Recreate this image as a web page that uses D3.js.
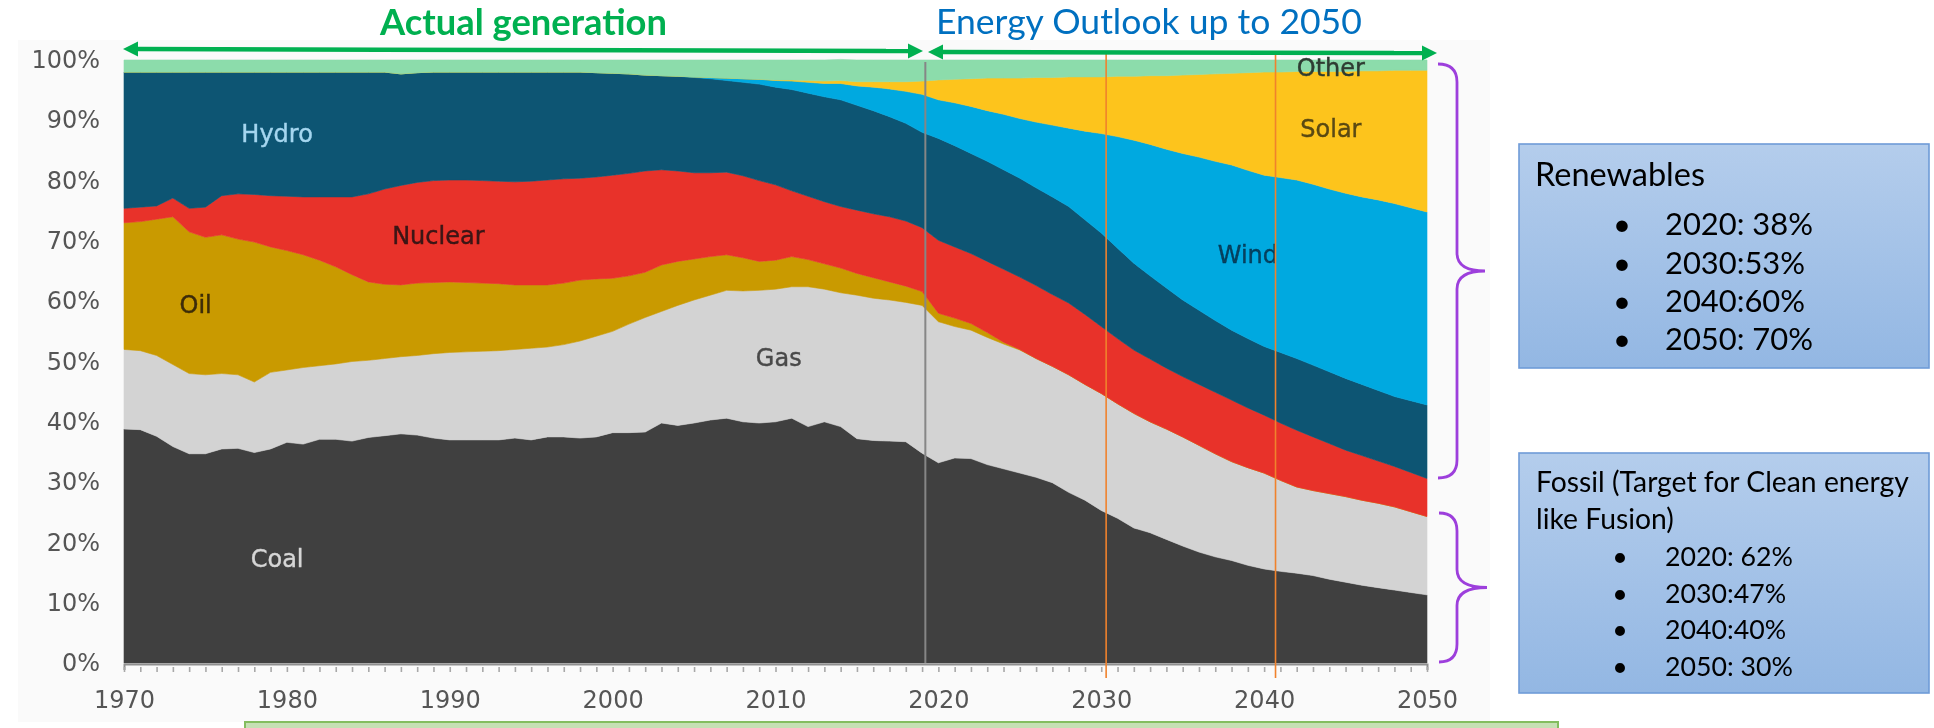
<!DOCTYPE html>
<html>
<head>
<meta charset="utf-8">
<script src="https://cdn.jsdelivr.net/npm/d3@7"></script>
<style>
  html, body { margin: 0; padding: 0; background: #ffffff; }
  svg { display: block; }
</style>
</head>
<body>
<script>
// Share of world electricity generation by source, 1970-2050 (%)
const years = d3.range(1970, 2051);

const coal = [
  38.8, 38.7, 37.6, 35.9, 34.7, 34.7, 35.5, 35.6, 34.9, 35.5,
  36.6, 36.3, 37.1, 37.1, 36.8, 37.4, 37.7, 38.0, 37.8, 37.3,
  37.0, 37.0, 37.0, 37.0, 37.3, 37.0, 37.5, 37.5, 37.3, 37.5,
  38.2, 38.2, 38.3, 39.8, 39.4, 39.8, 40.3, 40.6, 40.0, 39.8,
  40.0, 40.6, 39.2, 40.0, 39.2, 37.2, 36.9, 36.8, 36.7, 34.8,
  33.2, 34.0, 33.9, 32.9, 32.2, 31.5, 30.8, 29.9, 28.3, 27.0,
  25.3, 24.0, 22.4, 21.6, 20.5, 19.4, 18.4, 17.6, 17.0, 16.2,
  15.6, 15.2, 14.9, 14.5, 13.9, 13.4, 12.9, 12.5, 12.1, 11.7,
  11.3
];
const gas = [
  13.2, 13.1, 13.4, 13.6, 13.3, 13.1, 12.5, 12.2, 11.7, 12.7,
  12.0, 12.7, 12.2, 12.5, 13.2, 12.8, 12.8, 12.8, 13.2, 14.0,
  14.5, 14.6, 14.7, 14.8, 14.7, 15.2, 14.9, 15.3, 16.1, 16.7,
  16.8, 18.0, 19.0, 18.5, 19.9, 20.4, 20.7, 21.2, 21.7, 22.0,
  22.0, 21.8, 23.2, 22.0, 22.2, 23.8, 23.6, 23.4, 23.1, 24.5,
  23.4, 21.8, 21.3, 21.1, 20.7, 20.4, 19.7, 19.3, 19.5, 19.2,
  19.4, 19.0, 19.0, 18.4, 18.3, 18.1, 17.7, 17.1, 16.4, 16.2,
  15.9, 15.1, 14.3, 14.1, 14.2, 14.2, 14.1, 14.0, 13.8, 13.4,
  13.0
];
const oil = [
  21.0, 21.4, 22.6, 24.5, 23.5, 22.8, 23.0, 22.5, 23.2, 20.8,
  19.8, 18.7, 17.5, 16.1, 14.4, 13.0, 12.3, 11.9, 12.0, 11.8,
  11.7, 11.5, 11.3, 11.1, 10.7, 10.5, 10.3, 10.2, 10.1, 9.5,
  8.8, 8.0, 7.5, 7.7, 7.3, 6.8, 6.4, 5.9, 5.5, 4.8,
  4.8, 5.0, 4.5, 4.2, 4.1, 3.6, 3.4, 3.0, 2.7, 2.3,
  1.4, 1.4, 1.1, 0.8, 0.3, 0.1, 0, 0, 0, 0,
  0, 0, 0, 0, 0, 0, 0, 0, 0, 0,
  0, 0, 0, 0, 0, 0, 0, 0, 0, 0,
  0
];
const nuclear = [
  2.4, 2.4, 2.2, 3.1, 3.9, 5.0, 6.5, 7.5, 7.9, 8.5,
  9.0, 9.6, 10.5, 11.6, 12.9, 14.6, 15.8, 16.5, 16.7, 16.9,
  16.9, 17.0, 17.0, 17.0, 17.1, 17.2, 17.4, 17.3, 16.9, 16.9,
  17.1, 17.0, 16.8, 15.8, 15.0, 14.3, 13.9, 13.7, 13.6, 13.4,
  12.5, 10.9, 10.5, 10.3, 10.2, 10.5, 10.6, 10.8, 10.8, 10.6,
  12.1, 11.8, 11.6, 11.8, 12.1, 12.0, 12.1, 11.9, 11.9, 11.6,
  11.1, 10.8, 10.5, 10.4, 10.1, 10.0, 10.1, 10.2, 10.2, 9.9,
  9.6, 9.5, 9.4, 8.9, 8.3, 7.7, 7.4, 7.0, 6.7, 6.5,
  6.3
];
const hydro = [
  22.6, 22.4, 22.2, 20.9, 22.6, 22.4, 20.5, 20.2, 20.3, 20.5,
  20.6, 20.7, 20.7, 20.7, 20.7, 20.2, 19.4, 18.5, 18.2, 18.0,
  17.9, 17.9, 18.0, 18.1, 18.2, 18.1, 17.9, 17.7, 17.6, 17.3,
  16.9, 16.5, 15.9, 15.6, 15.7, 15.8, 15.6, 15.2, 15.5, 16.0,
  16.2, 16.8, 17.1, 17.4, 17.7, 17.4, 17.1, 16.6, 16.2, 15.8,
  16.9, 16.8, 16.6, 16.6, 16.5, 16.4, 16.2, 16.2, 16.0, 15.7,
  15.5, 15.0, 14.4, 13.8, 13.3, 12.7, 12.3, 11.9, 11.6, 11.5,
  11.4, 11.7, 11.9, 11.9, 11.9, 11.9, 11.8, 11.7, 11.6, 11.9,
  12.2
];
const wind = [
  0, 0, 0, 0, 0, 0, 0, 0, 0, 0,
  0, 0, 0, 0, 0, 0, 0, 0, 0, 0,
  0, 0, 0, 0, 0, 0, 0, 0, 0, 0,
  0, 0, 0, 0, 0, 0.1, 0.2, 0.4, 0.6, 0.8,
  1.1, 1.4, 1.8, 2.2, 2.7, 3.2, 3.9, 4.6, 5.3, 6.3,
  6.4, 7.1, 7.8, 8.4, 9.2, 9.9, 10.9, 11.9, 13.0, 14.7,
  16.5, 18.5, 20.4, 21.8, 23.0, 24.3, 25.4, 26.4, 27.4, 27.9,
  28.4, 29.0, 29.6, 30.0, 30.3, 30.7, 31.1, 31.6, 32.0, 32.0,
  32.0
];
const solar = [
  0, 0, 0, 0, 0, 0, 0, 0, 0, 0,
  0, 0, 0, 0, 0, 0, 0, 0, 0, 0,
  0, 0, 0, 0, 0, 0, 0, 0, 0, 0,
  0, 0, 0, 0, 0, 0, 0, 0, 0, 0,
  0.1, 0.2, 0.3, 0.4, 0.5, 0.7, 0.9, 1.2, 1.6, 2.2,
  3.3, 3.9, 4.6, 5.4, 6.0, 6.7, 7.4, 7.9, 8.5, 9.0,
  9.4, 10.0, 10.6, 11.4, 12.2, 13.0, 13.7, 14.5, 15.2, 16.2,
  17.1, 17.5, 18.0, 18.7, 19.5, 20.2, 20.9, 21.4, 22.1, 22.8,
  23.5
];
const other = [
  2.0, 2.0, 2.0, 2.0, 2.0, 2.0, 2.0, 2.0, 2.0, 2.0,
  2.0, 2.0, 2.0, 2.0, 2.0, 2.0, 2.0, 2.3, 2.1, 2.0,
  2.0, 2.0, 2.0, 2.0, 2.0, 2.0, 2.0, 2.0, 2.0, 2.1,
  2.2, 2.3, 2.5, 2.6, 2.7, 2.8, 2.9, 3.0, 3.1, 3.2,
  3.3, 3.3, 3.4, 3.5, 3.5, 3.6, 3.6, 3.6, 3.6, 3.5,
  3.3, 3.2, 3.1, 3.0, 3.0, 3.0, 2.9, 2.9, 2.8, 2.8,
  2.8, 2.7, 2.7, 2.6, 2.6, 2.5, 2.4, 2.3, 2.2, 2.1,
  2.0, 2.0, 1.9, 1.9, 1.9, 1.9, 1.8, 1.8, 1.7, 1.7,
  1.7
];

const sources = ["Coal", "Gas", "Oil", "Nuclear", "Hydro", "Wind", "Solar", "Other"];
const seriesBySource = { Coal: coal, Gas: gas, Oil: oil, Nuclear: nuclear, Hydro: hydro, Wind: wind, Solar: solar, Other: other };

const yTicks = [0, 10, 20, 30, 40, 50, 60, 70, 80, 90, 100];
const xTickLabels = [1970, 1980, 1990, 2000, 2010, 2020, 2030, 2040, 2050];

// Summary boxes
const renewablesTitle = "Renewables";
const renewablesItems = ["2020: 38%", "2030:53%", "2040:60%", "2050: 70%"];
const fossilTitle = ["Fossil (Target for Clean energy", "like Fusion)"];
const fossilItems = ["2020: 62%", "2030:47%", "2040:40%", "2050: 30%"];

// ---- styling / layout ----
const fills = {
  Coal: "#414141", Gas: "#d3d3d3", Oil: "#c99a06", Nuclear: "#e8332a",
  Hydro: "#0b5473", Wind: "#00a9e0", Solar: "#fdc41f", Other: "#8cdcab"
};
const labelStyle = {
  Coal:    { at: [1979.4, 17.4], color: "#d6d6d6" },
  Gas:     { at: [2010.2, 50.7], color: "#4a4a4a" },
  Oil:     { at: [1974.4, 59.4], color: "#3c2c08" },
  Nuclear: { at: [1989.3, 71.0], color: "#3a1313" },
  Hydro:   { at: [1979.4, 87.9], color: "#a5d6ef" },
  Wind:    { at: [2039.0, 67.8], color: "#073f5c" },
  Solar:   { at: [2044.1, 88.6], color: "#5a4912" },
  Other:   { at: [2044.1, 98.8], color: "#2e3c31" }
};

const W = 1934, H = 728;
const svg = d3.select("body").append("svg").attr("width", W).attr("height", H);

const defs = svg.append("defs");
defs.append("filter").attr("id", "soft")
  .attr("x", "-2%").attr("y", "-2%").attr("width", "104%").attr("height", "104%")
  .append("feGaussianBlur").attr("stdDeviation", 0.6);

const x = d3.scaleLinear().domain([1970, 2050]).range([124, 1427]);
const y = d3.scaleLinear().domain([0, 100]).range([663, 60]);

// pale panel behind the chart
svg.append("rect").attr("x", 18).attr("y", 40).attr("width", 1472).attr("height", 682)
  .attr("fill", "#fafafa");

const chart = svg.append("g").attr("filter", "url(#soft)");

const table = years.map((year, i) => {
  const row = { year };
  sources.forEach(s => row[s] = seriesBySource[s][i]);
  return row;
});

const stacked = d3.stack().keys(sources)(table);
const area = d3.area()
  .x(d => x(d.data.year))
  .y0(d => y(d[0]))
  .y1(d => y(d[1]));

chart.append("g").selectAll("path")
  .data(stacked)
  .join("path")
  .attr("d", area)
  .attr("fill", d => fills[d.key])
  .attr("stroke", d => fills[d.key])
  .attr("stroke-width", 0.6);

// divider between history and outlook
chart.append("line")
  .attr("x1", x(2019.2)).attr("x2", x(2019.2))
  .attr("y1", y(100) + 2).attr("y2", y(0))
  .attr("stroke", "#868686").attr("stroke-width", 2);

// x axis: a tick per year, labels per decade
const xAxis = d3.axisBottom(x)
  .tickValues(years)
  .tickSize(6)
  .tickPadding(21)
  .tickFormat(d => xTickLabels.includes(d) ? String(d) : "");
const gx = chart.append("g").attr("transform", `translate(0,${y(0) + 1})`).call(xAxis);
gx.select(".domain").attr("stroke", "#8f8f8f").attr("stroke-width", 2);
gx.selectAll(".tick line").attr("stroke", "#a8a8a8").attr("stroke-width", 1.6)
  .attr("y1", 3).attr("y2", 8);
gx.selectAll(".tick text")
  .attr("font-family", "DejaVu Sans").attr("font-size", 24).attr("fill", "#555");

// y axis labels
const yAxis = d3.axisLeft(y)
  .tickValues(yTicks)
  .tickSize(0)
  .tickPadding(24)
  .tickFormat(d => d + "%");
const gy = chart.append("g").attr("transform", `translate(${x.range()[0]},0)`).call(yAxis);
gy.select(".domain").remove();
gy.selectAll(".tick text")
  .attr("font-family", "DejaVu Sans").attr("font-size", 24).attr("fill", "#555");

// series labels
chart.append("g").selectAll("text")
  .data(sources)
  .join("text")
  .attr("x", s => x(labelStyle[s].at[0]))
  .attr("y", s => y(labelStyle[s].at[1]))
  .attr("dy", "0.36em")
  .attr("text-anchor", "middle")
  .attr("font-family", "DejaVu Sans")
  .attr("font-size", 24)
  .attr("fill", s => labelStyle[s].color)
  .attr("stroke", s => labelStyle[s].color)
  .attr("stroke-width", 0.4)
  .text(s => s);

// marker lines at the outlook milestones
[2030.3, 2040.7].forEach(yr => {
  svg.append("line")
    .attr("x1", x(yr)).attr("x2", x(yr))
    .attr("y1", 53).attr("y2", 678)
    .attr("stroke", "#f0822c").attr("stroke-width", 1.6);
});

// text width fitting helper
const probe = svg.append("text").attr("visibility", "hidden");
function fitSize(str, family, weight, width) {
  probe.attr("font-family", family).attr("font-weight", weight).attr("font-size", 100).text(str);
  return 100 * width / probe.node().getComputedTextLength();
}

// double-headed arrows above the chart
function arrow(x1, y1, x2, y2) {
  const g = svg.append("g").attr("fill", "#00b050").attr("stroke", "#00b050");
  const len = 15, half = 7.5;
  const ang = Math.atan2(y2 - y1, x2 - x1);
  const ux = Math.cos(ang), uy = Math.sin(ang);
  g.append("line")
    .attr("x1", x1 + ux * len).attr("y1", y1 + uy * len)
    .attr("x2", x2 - ux * len).attr("y2", y2 - uy * len)
    .attr("stroke-width", 4.5);
  const head = (tx, ty, dir) => {
    const bx = tx - dir * ux * len, by = ty - dir * uy * len;
    return `M${tx},${ty}L${bx - uy * half},${by + ux * half}L${bx + uy * half},${by - ux * half}Z`;
  };
  g.append("path").attr("d", head(x1, y1, -1)).attr("stroke", "none");
  g.append("path").attr("d", head(x2, y2, 1)).attr("stroke", "none");
}
arrow(123, 49, 923, 51);
arrow(928, 52, 1437, 53);

const headFont = "Lato";
const actual = "Actual generation";
svg.append("text").attr("x", 380).attr("y", 35)
  .attr("font-family", headFont).attr("font-weight", 700)
  .attr("font-size", fitSize(actual, headFont, 700, 287))
  .attr("fill", "#00b050").text(actual);
const outlook = "Energy Outlook up to 2050";
svg.append("text").attr("x", 936).attr("y", 34)
  .attr("font-family", headFont).attr("font-weight", 400)
  .attr("font-size", fitSize(outlook, headFont, 400, 426))
  .attr("fill", "#0070c0").text(outlook);

// curly braces grouping the stack
function brace(xLeft, xLine, xTip, yTop, yBot) {
  const ym = (yTop + yBot) / 2, r = 18;
  return `M${xLeft},${yTop} Q${xLine},${yTop} ${xLine},${yTop + r}` +
         ` L${xLine},${ym - r} Q${xLine},${ym} ${xTip},${ym}` +
         ` Q${xLine},${ym} ${xLine},${ym + r}` +
         ` L${xLine},${yBot - r} Q${xLine},${yBot} ${xLeft},${yBot}`;
}
svg.append("path").attr("d", brace(1438, 1457, 1485, 64, 478))
  .attr("fill", "none").attr("stroke", "#9d3fdc").attr("stroke-width", 2.8);
svg.append("path").attr("d", brace(1439, 1457, 1487, 513, 662))
  .attr("fill", "none").attr("stroke", "#9d3fdc").attr("stroke-width", 2.8);

// summary boxes
const grad = defs.append("linearGradient").attr("id", "boxFill")
  .attr("x1", 0).attr("y1", 0).attr("x2", 0).attr("y2", 1);
grad.append("stop").attr("offset", "0%").attr("stop-color", "#b4cdec");
grad.append("stop").attr("offset", "100%").attr("stop-color", "#93b7e3");

const boxFont = "Lato";
function box(x0, y0, w, h) {
  svg.append("rect").attr("x", x0).attr("y", y0).attr("width", w).attr("height", h)
    .attr("fill", "url(#boxFill)").attr("stroke", "#6f9bd8").attr("stroke-width", 1.6);
}

box(1519, 144, 410, 224);
const renTitleSize = fitSize(renewablesTitle, boxFont, 400, 170);
svg.append("text").attr("x", 1535).attr("y", 186)
  .attr("font-family", boxFont).attr("font-size", renTitleSize).attr("fill", "#000")
  .text(renewablesTitle);
const renItemSize = fitSize(renewablesItems[0], boxFont, 400, 148);
const renBase = [235, 273.5, 312, 350];
renewablesItems.forEach((t, i) => {
  svg.append("text").attr("x", 1622).attr("y", renBase[i]).attr("text-anchor", "middle")
    .attr("font-family", boxFont).attr("font-size", renItemSize).text("\u2022");
  svg.append("text").attr("x", 1665).attr("y", renBase[i])
    .attr("font-family", boxFont).attr("font-size", renItemSize).attr("fill", "#000").text(t);
});

box(1519, 453, 410, 240);
const fosTitleSize = fitSize(fossilTitle[0], boxFont, 400, 373);
const fosTitleBase = [491.5, 528.5];
fossilTitle.forEach((t, i) => {
  svg.append("text").attr("x", 1536).attr("y", fosTitleBase[i])
    .attr("font-family", boxFont).attr("font-size", fosTitleSize).attr("fill", "#000").text(t);
});
const fosItemSize = fitSize(fossilItems[0], boxFont, 400, 128);
const fosBase = [565.5, 602.5, 639, 676];
fossilItems.forEach((t, i) => {
  svg.append("text").attr("x", 1620).attr("y", fosBase[i]).attr("text-anchor", "middle")
    .attr("font-family", boxFont).attr("font-size", fosItemSize).text("\u2022");
  svg.append("text").attr("x", 1665).attr("y", fosBase[i])
    .attr("font-family", boxFont).attr("font-size", fosItemSize).attr("fill", "#000").text(t);
});

// caption strip along the bottom edge
svg.append("rect").attr("x", 245).attr("y", 722).attr("width", 1313).attr("height", 30)
  .attr("fill", "#c6e0b4").attr("stroke", "#84bd5f").attr("stroke-width", 2);

probe.remove();
</script>
</body>
</html>
